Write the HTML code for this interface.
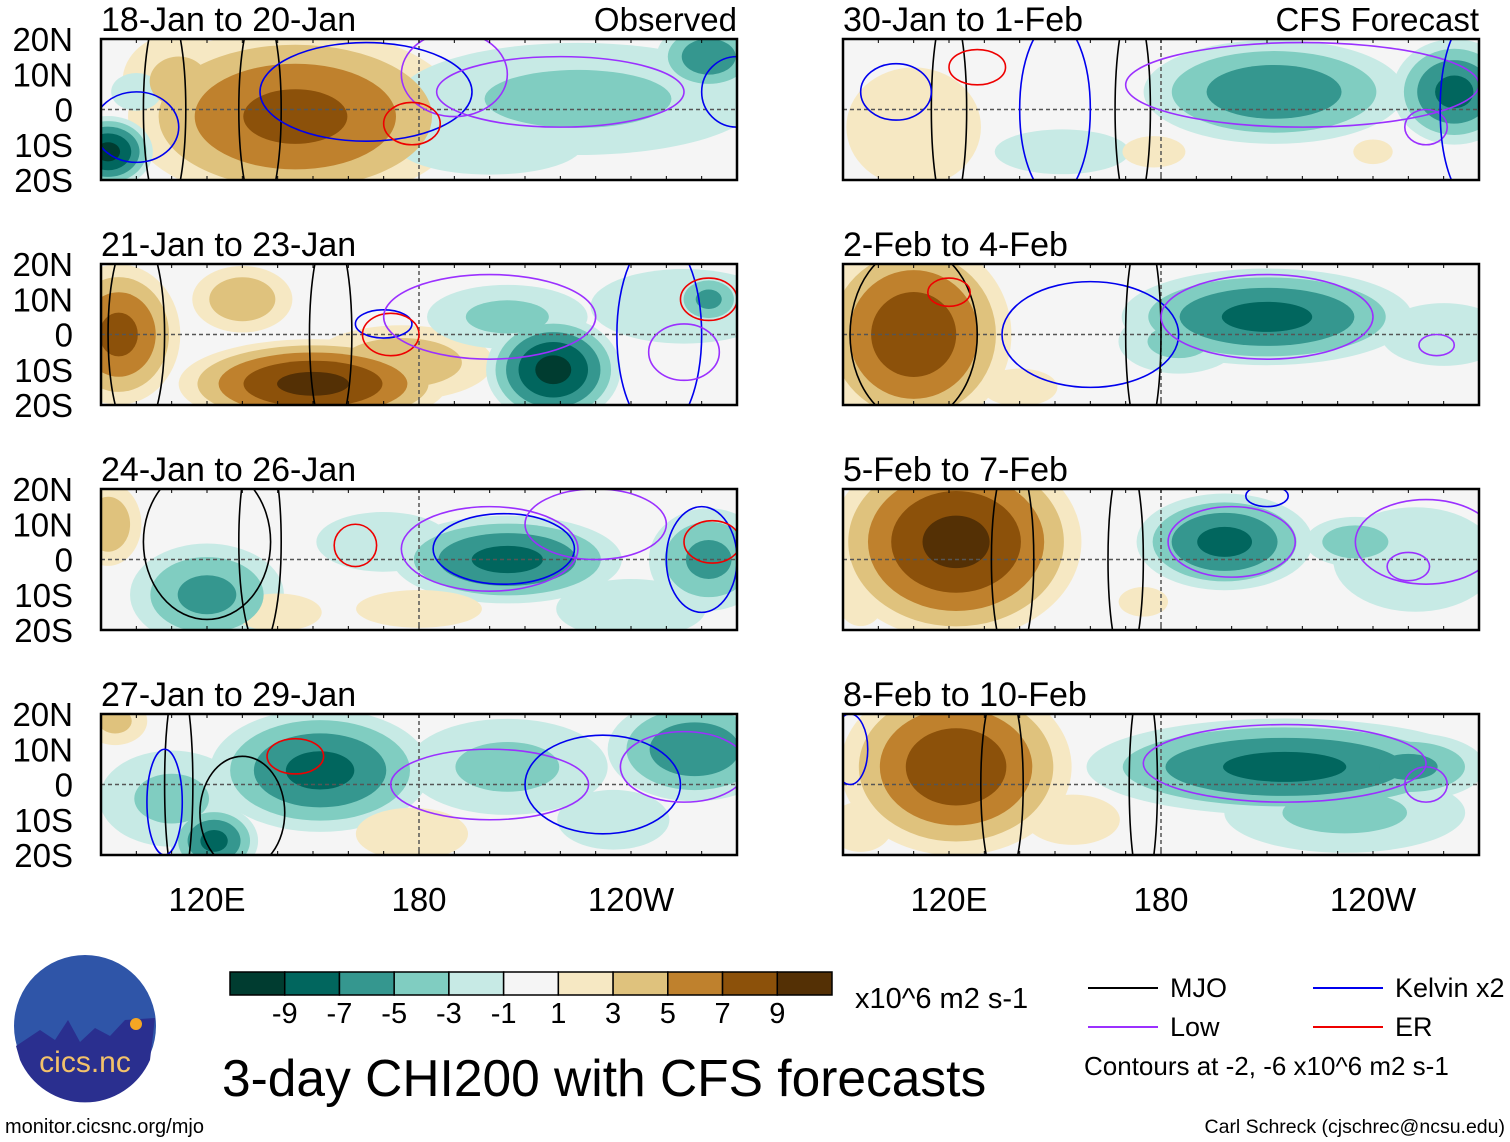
<!DOCTYPE html>
<html><head><meta charset="utf-8"><style>
html,body{margin:0;padding:0;background:#fff;}
svg{display:block;font-family:"Liberation Sans",Arial,sans-serif;}
</style></head><body>
<svg id="fig" width="1510" height="1142" viewBox="0 0 1510 1142"></svg>
<script>
// ---- data ----
const panelTitles = ["18-Jan to 20-Jan","21-Jan to 23-Jan","24-Jan to 26-Jan","27-Jan to 29-Jan","30-Jan to 1-Feb","2-Feb to 4-Feb","5-Feb to 7-Feb","8-Feb to 10-Feb"];
const latTicks = [20,10,0,-10,-20];
const latLabels = ["20N","10N","0","10S","20S"];
const lonTicks = [120,180,240];
const lonLabels = ["120E","180","120W"];
const levels = [1,3,5,7,9];
const cbarLabels = ["-9","-7","-5","-3","-1","1","3","5","7","9"];
const cbarColors = ["#003c30","#01665e","#35978f","#80cdc1","#c7eae5","#f5f5f5","#f6e8c3","#dfc27d","#bf812d","#8c510a","#543005"];
// anomaly blobs per panel: [lon, lat, rxDeg, ryDeg, peak]
const blobs = [
 [[145,-2,38,20,8],[112,8,14,12,4],[92,-12,10,8,-10],[100,5,8,6,-2],[225,3,45,14,-4],[262,15,12,8,-7],[200,-10,25,8,-3]],
 [[95,0,14,16,8],[150,-14,30,10,10],[130,10,12,8,5],[175,-8,22,9,5],[218,-10,15,12,-10],[205,5,20,8,-4],[255,8,25,10,-3],[262,10,8,6,-6]],
 [[120,-10,18,12,-6],[205,0,26,10,-8],[170,5,18,8,-3],[262,0,14,12,-6],[92,10,8,10,5],[180,-14,20,6,2],[140,-15,14,6,2],[240,-14,20,8,-3]],
 [[152,4,25,14,-8],[110,-4,18,12,-4],[122,-16,10,8,-8],[258,10,20,12,-7],[205,5,25,12,-4],[94,18,8,6,4],[178,-14,15,7,3],[235,-10,15,8,-3]],
 [[110,-5,18,16,3],[212,5,30,12,-7],[263,5,14,12,-8],[152,-12,18,6,-3],[178,-12,10,5,2],[240,-12,8,5,1.5]],
 [[110,0,22,22,9],[210,5,33,11,-8],[185,-2,15,8,-4],[140,-15,12,6,2],[260,0,20,10,-2]],
 [[122,5,28,22,10],[198,5,20,11,-8],[235,5,12,6,-5],[252,0,22,14,-3],[95,-10,8,10,2],[175,-12,10,6,1.5]],
 [[122,5,26,20,9],[215,5,45,11,-8],[250,5,18,8,-6],[232,-8,30,10,-4],[95,-12,10,8,2],[155,-10,15,8,2]]
];
// contour lines per panel: [type, cx, cy, rx, ry]  (ellipses in lon/lat)
const contours = [
 [["mjo",108,0,6,30],["mjo",135,0,6,30],["kel",165,5,30,14],["kel",100,-5,12,10],["low",220,5,35,10],["low",190,10,15,12],["er",178,-4,8,6],["kel",270,5,10,10]],
 [["mjo",100,0,8,30],["mjo",155,0,6,30],["kel",170,3,8,4],["er",172,0,8,6],["low",200,5,30,12],["kel",248,0,12,28],["er",262,10,8,6],["low",255,-5,10,8]],
 [["mjo",120,5,18,22],["mjo",135,5,6,30],["er",162,4,6,6],["low",200,3,25,12],["kel",204,3,20,10],["low",230,10,20,10],["kel",260,0,10,15],["er",263,5,8,6]],
 [["mjo",130,-8,12,16],["mjo",112,0,4,30],["er",145,8,8,5],["low",200,0,28,10],["kel",232,0,22,14],["low",255,5,18,10],["kel",108,-5,5,15]],
 [["mjo",120,0,5,30],["er",128,12,8,5],["kel",105,5,10,8],["kel",150,0,10,25],["mjo",172,0,5,30],["low",220,7,50,12],["low",255,-5,6,5],["kel",267,0,8,25]],
 [["mjo",110,0,18,25],["er",120,12,6,4],["kel",160,0,25,15],["mjo",175,0,5,30],["low",210,5,30,12],["low",258,-3,5,3]],
 [["mjo",138,0,6,30],["mjo",170,0,5,30],["low",200,5,18,10],["low",250,-2,6,4],["low",255,5,20,12],["kel",210,18,6,3]],
 [["mjo",135,0,6,30],["mjo",175,0,4,30],["low",215,6,40,11],["low",255,0,6,5],["kel",92,10,5,10]]
];
const lineColors = {mjo:"#000000",kel:"#0000ee",low:"#9b30ff",er:"#ee0000"};

const NS="http://www.w3.org/2000/svg";
const svg=document.getElementById('fig');
function mk(tag,attrs,parent){const e=document.createElementNS(NS,tag);for(const k in attrs)e.setAttribute(k,attrs[k]);(parent||svg).appendChild(e);return e;}
const PW=636,PH=141;
const tops=[39,264,489,714];
const lefts=[101,843];
const SPREAD=1.35;
function colorFor(v){
  const idx = v>0 ? 5+levels.indexOf(v)+1 : 5-levels.indexOf(-v)-1;
  return cbarColors[idx];
}
const defs=mk('defs',{});
panelTitles.forEach((t,i)=>{
  const col=i<4?0:1,row=i%4;
  const x0=lefts[col],y0=tops[row];
  const xs=lon=>x0+(lon-90)*PW/180;
  const ys=lat=>y0+(20-lat)*PH/40;
  const cp=mk('clipPath',{id:'cp'+i},defs);
  mk('rect',{x:x0,y:y0,width:PW,height:PH},cp);
  const g=mk('g',{'clip-path':'url(#cp'+i+')'});
  
  
  mk('rect',{x:x0,y:y0,width:PW,height:PH,fill:'#f5f5f5'},g);
  const bl=blobs[i];
  levels.forEach(L=>{
    bl.forEach(b=>{
      const m=Math.abs(b[4]);
      if(m<=L) return;
      const f=SPREAD*Math.pow(1-L/m,0.6);
      const e=mk('ellipse',{cx:xs(b[0]),cy:ys(b[1]),rx:b[2]*f*PW/180,ry:b[3]*f*PH/40,fill:colorFor(b[4]>0?L:-L)},g);
      
      
    });
  });
  mk('line',{x1:x0,x2:x0+PW,y1:ys(0),y2:ys(0),stroke:'#555','stroke-width':1.5,'stroke-dasharray':'4,3'},g);
  mk('line',{x1:xs(180),x2:xs(180),y1:y0,y2:y0+PH,stroke:'#555','stroke-width':1.5,'stroke-dasharray':'4,3'},g);
  contours[i].forEach(c=>{
    const e=mk('ellipse',{cx:xs(c[1]),cy:ys(c[2]),rx:c[3]*PW/180,ry:c[4]*PH/40,fill:'none',stroke:lineColors[c[0]],'stroke-width':1.6},g);
    
    
  });
  mk('rect',{x:x0,y:y0,width:PW,height:PH,fill:'none',stroke:'#000','stroke-width':2.5});
  for(let lon=90;lon<=270;lon+=10){mk('line',{x1:xs(lon),x2:xs(lon),y1:y0,y2:y0+4,stroke:'#000','stroke-width':1});mk('line',{x1:xs(lon),x2:xs(lon),y1:y0+PH,y2:y0+PH-4,stroke:'#000','stroke-width':1});}
  const tt=mk('text',{x:x0,y:y0-8,'font-size':34},svg);tt.textContent=t;
  
  if(row===0){const s=mk('text',{x:x0+PW,y:y0-8,'font-size':33,'text-anchor':'end'});s.textContent=col===0?'Observed':'CFS Forecast';
    }
  if(col===0){latTicks.forEach((la,k)=>{const l=mk('text',{x:73,y:ys(la)+12,'font-size':33,'text-anchor':'end'});l.textContent=latLabels[k];
    });}
  if(row===3){lonTicks.forEach((lo,k)=>{const l=mk('text',{x:xs(lo),y:911,'font-size':33,'text-anchor':'middle'});l.textContent=lonLabels[k];
    });}
});
const cbx=230,cbw=602,cby=972,cbh=23,bw=cbw/11;
cbarColors.forEach((c,k)=>{const r=mk('rect',{x:cbx+k*bw,y:cby,width:bw,height:cbh,fill:c,stroke:'#000','stroke-width':1.5});
  });
cbarLabels.forEach((s,k)=>{const l=mk('text',{x:cbx+(k+1)*bw,y:1023,'font-size':29,'text-anchor':'middle'});l.textContent=s;
  });
const un=mk('text',{x:855,y:1008,'font-size':29});un.textContent='x10^6 m2 s-1';

const leg=[["MJO","mjo",1088,988],["Kelvin x2","kel",1313,988],["Low","low",1088,1027],["ER","er",1313,1027]];
leg.forEach(e=>{mk('line',{x1:e[2],x2:e[2]+70,y1:e[3],y2:e[3],stroke:lineColors[e[1]],'stroke-width':2});
  const t=mk('text',{x:e[2]+82,y:e[3]+9,'font-size':27});t.textContent=e[0];
  });
const ct=mk('text',{x:1084,y:1075,'font-size':26});ct.textContent='Contours at -2, -6 x10^6 m2 s-1';

const mt=mk('text',{x:222,y:1096,'font-size':51.5});mt.textContent='3-day CHI200 with CFS forecasts';

const u1=mk('text',{x:5,y:1133,'font-size':20});u1.textContent='monitor.cicsnc.org/mjo';

const u2=mk('text',{x:1505,y:1133,'font-size':19.5,'text-anchor':'end'});u2.textContent='Carl Schreck (cjschrec@ncsu.edu)';

const lg=mk('g',{});

mk('circle',{cx:85,cy:1026,r:71,fill:'#2f55a8'},lg);
mk('path',{d:'M16 1046 L40 1030 L55 1040 L68 1020 L80 1042 L95 1028 L110 1036 L125 1020 L155 1018 L150 1060 A71 71 0 0 1 20 1060 Z',fill:'#2a2f8f'},lg);
mk('circle',{cx:136,cy:1024,r:6,fill:'#f5a623'},lg);
const lt=mk('text',{x:85,y:1072,'font-size':30,'text-anchor':'middle',fill:'#f3c26a'},lg);lt.textContent='cics.nc';
</script>
</body></html>
